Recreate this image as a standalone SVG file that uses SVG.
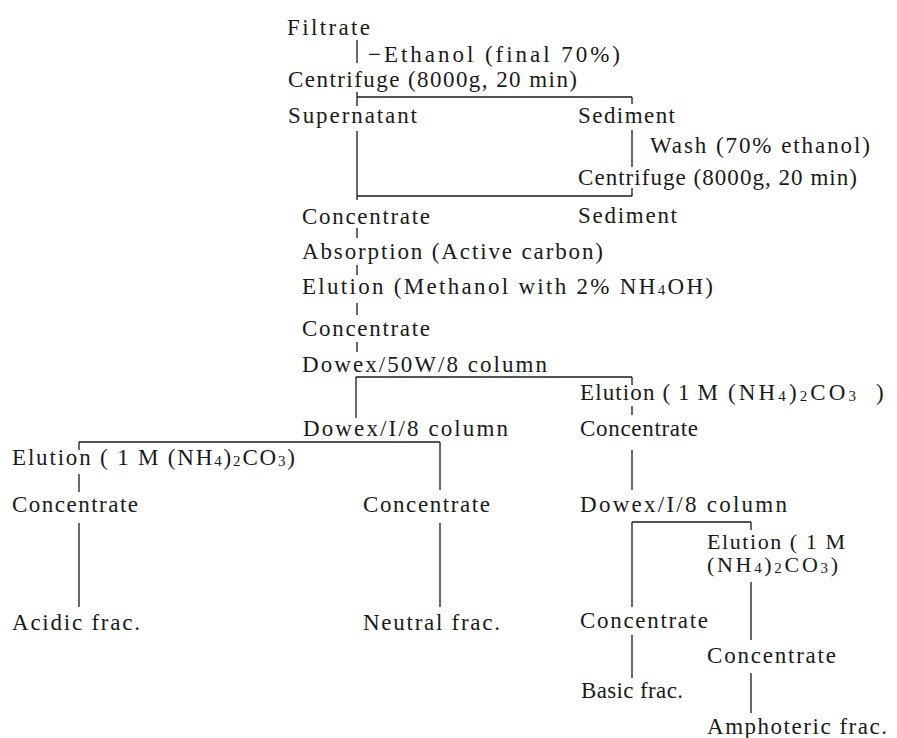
<svg xmlns="http://www.w3.org/2000/svg" width="897" height="738" viewBox="0 0 897 738">
<style>
text{font-family:"Liberation Serif","Times New Roman",serif;font-size:23px;fill:#1a1a1a}
.s{font-size:15px}
.t{font-size:22px}
.c line{stroke:#1a1a1a;stroke-width:1.3;fill:none}
</style>
<rect width="897" height="738" fill="#fff"/>
<g class="c" id="connectors">
<line x1="357" y1="40" x2="357" y2="63"/>
<line x1="357" y1="92" x2="357" y2="106"/>
<line x1="357" y1="97" x2="632" y2="97"/>
<line x1="632" y1="97" x2="632" y2="104"/>
<line x1="357" y1="131" x2="357" y2="200"/>
<line x1="632" y1="130" x2="632" y2="167"/>
<line x1="357" y1="196" x2="632" y2="196"/>
<line x1="632" y1="188" x2="632" y2="196"/>
<line x1="357" y1="228" x2="357" y2="238"/>
<line x1="357" y1="265" x2="357" y2="275"/>
<line x1="357" y1="303" x2="357" y2="315"/>
<line x1="357" y1="342" x2="357" y2="352"/>
<line x1="356" y1="377" x2="632" y2="377"/>
<line x1="632" y1="377" x2="632" y2="385"/>
<line x1="356" y1="377" x2="356" y2="418"/>
<line x1="632" y1="406" x2="632" y2="415"/>
<line x1="632" y1="450" x2="632" y2="490"/>
<line x1="79" y1="442" x2="440" y2="442"/>
<line x1="79" y1="442" x2="79" y2="450"/>
<line x1="440" y1="442" x2="440" y2="490"/>
<line x1="79" y1="474" x2="79" y2="492"/>
<line x1="79" y1="523" x2="79" y2="607"/>
<line x1="440" y1="523" x2="440" y2="607"/>
<line x1="632" y1="522" x2="751" y2="522"/>
<line x1="632" y1="522" x2="632" y2="607"/>
<line x1="751" y1="522" x2="751" y2="530"/>
<line x1="751" y1="582" x2="751" y2="640"/>
<line x1="632" y1="635" x2="632" y2="678"/>
<line x1="751" y1="673" x2="751" y2="713"/>
</g>
<g id="filtrate"><text x="287" y="35" textLength="83">Filtrate</text></g>
<g id="ethanol"><text x="368" y="62" textLength="252">−Ethanol (final 70%)</text></g>
<g id="centrifuge1"><text x="288" y="87" textLength="289">Centrifuge (8000g, 20 min)</text></g>
<g id="supernatant"><text x="288" y="123" textLength="129">Supernatant</text></g>
<g id="sediment1"><text x="578" y="123" textLength="97">Sediment</text></g>
<g id="wash"><text x="650" y="153" textLength="220">Wash (70% ethanol)</text></g>
<g id="centrifuge2"><text x="578" y="185" textLength="279">Centrifuge (8000g, 20 min)</text></g>
<g id="sediment2"><text x="578" y="223" textLength="99">Sediment</text></g>
<g id="concentrate1"><text x="302" y="224" textLength="128">Concentrate</text></g>
<g id="absorption"><text x="302" y="259" textLength="301">Absorption (Active carbon)</text></g>
<g id="elution1"><text x="302" y="294" textLength="411">Elution (Methanol with 2% NH<tspan class="s" dy="1">4</tspan><tspan dy="-1">OH)</tspan></text></g>
<g id="concentrate2"><text x="302" y="336" textLength="128">Concentrate</text></g>
<g id="dowex50"><text x="302" y="372" textLength="245">Dowex/50W/8 column</text></g>
<g id="elution2"><text x="580" y="400" textLength="138">Elution ( 1 M</text><text x="728" y="400" textLength="128">(NH<tspan class="s" dy="1">4</tspan><tspan dy="-1">)</tspan><tspan class="s" dy="1">2</tspan><tspan dy="-1">CO</tspan><tspan class="s" dy="1">3</tspan></text><text x="876" y="400">)</text></g>
<g id="dowexI1"><text x="303" y="436" textLength="205">Dowex/I/8 column</text></g>
<g id="concentrate3"><text x="580" y="436" textLength="118">Concentrate</text></g>
<g id="elution3"><text x="12" y="465" textLength="283">Elution ( 1 M  (NH<tspan class="s" dy="1">4</tspan><tspan dy="-1">)</tspan><tspan class="s" dy="1">2</tspan><tspan dy="-1">CO</tspan><tspan class="s" dy="1">3</tspan><tspan dy="-1">)</tspan></text></g>
<g id="concentrate4"><text x="12" y="512" textLength="126">Concentrate</text></g>
<g id="concentrate5"><text x="363" y="512" textLength="127">Concentrate</text></g>
<g id="dowexI2"><text x="580" y="512" textLength="207">Dowex/I/8 column</text></g>
<g id="elution4"><text class="t" x="707" y="549" textLength="138">Elution ( 1 M</text><text class="t" x="707" y="572" textLength="131">(NH<tspan class="s" dy="1">4</tspan><tspan dy="-1">)</tspan><tspan class="s" dy="1">2</tspan><tspan dy="-1">CO</tspan><tspan class="s" dy="1">3</tspan><tspan dy="-1">)</tspan></text></g>
<g id="acidic"><text x="12" y="630" textLength="128">Acidic frac.</text></g>
<g id="neutral"><text x="363" y="630" textLength="137">Neutral frac.</text></g>
<g id="concentrate6"><text x="580" y="628" textLength="128">Concentrate</text></g>
<g id="concentrate7"><text x="707" y="663" textLength="129">Concentrate</text></g>
<g id="basic"><text x="581" y="698" textLength="102">Basic frac.</text></g>
<g id="amphoteric"><text x="707" y="734" textLength="180">Amphoteric frac.</text></g>
</svg>
